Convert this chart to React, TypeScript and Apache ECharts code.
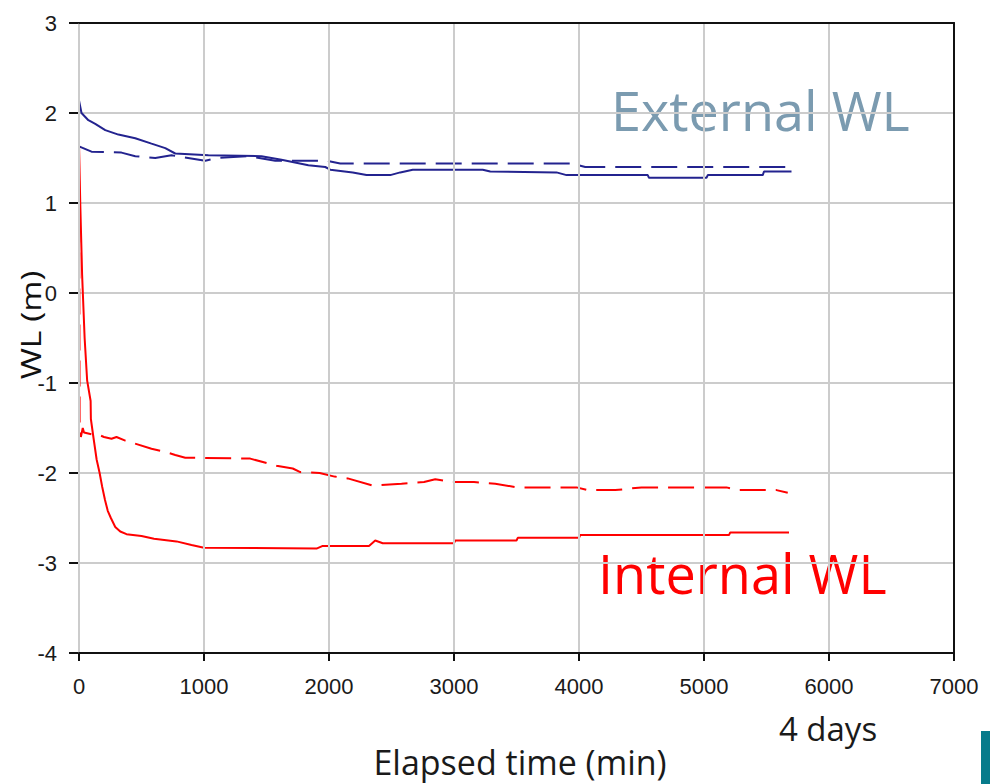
import React, { useEffect, useRef } from "react";
import * as echarts from "echarts";

const xTicks = [0, 1000, 2000, 3000, 4000, 5000, 6000, 7000];
const yTicks = [-4, -3, -2, -1, 0, 1, 2, 3];

const externalSolid: [number, number][] = [
  [0, 2.14], [20, 2.0], [75, 1.92], [130, 1.88], [210, 1.81], [315, 1.76], [450, 1.72],
  [580, 1.66], [690, 1.61], [770, 1.55], [1035, 1.53], [1460, 1.52], [1620, 1.48],
  [1835, 1.42], [1970, 1.4], [2010, 1.37], [2190, 1.34], [2300, 1.31], [2490, 1.31],
  [2570, 1.34], [2670, 1.37], [3230, 1.37], [3290, 1.35], [3820, 1.34], [3900, 1.31],
  [4550, 1.31], [4560, 1.28], [5020, 1.28], [5030, 1.31], [5470, 1.31], [5480, 1.35],
  [5700, 1.35],
];

const externalDashed: [number, number][] = [
  [0, 1.63], [100, 1.57], [340, 1.56], [450, 1.52], [610, 1.5], [740, 1.53], [1010, 1.47],
  [1110, 1.5], [1350, 1.52], [1570, 1.47], [1980, 1.47], [2090, 1.44], [3710, 1.44],
  [3940, 1.44], [4050, 1.4], [5700, 1.4],
];

const internalSolid: [number, number][] = [
  [0, 1.65], [10, 1.0], [25, 0.2], [45, -0.5], [65, -0.97], [93, -1.2], [95, -1.4],
  [115, -1.6], [141, -1.85], [165, -2.0], [185, -2.15], [208, -2.3], [230, -2.42],
  [255, -2.5], [290, -2.6], [330, -2.65], [380, -2.68], [500, -2.7], [600, -2.73],
  [780, -2.76], [900, -2.8], [1000, -2.83], [1900, -2.84], [1950, -2.81], [2320, -2.81],
  [2370, -2.75], [2430, -2.78], [3000, -2.78], [3010, -2.75], [3500, -2.75], [3510, -2.72],
  [4000, -2.72], [4010, -2.69], [5200, -2.69], [5210, -2.66], [5680, -2.66],
];

const internalDashed: [number, number][] = [
  [0, 1.65], [5, -1.45], [15, -1.6], [30, -1.5], [40, -1.55], [100, -1.57], [150, -1.57],
  [200, -1.6], [260, -1.62], [300, -1.6], [370, -1.64], [580, -1.73], [700, -1.77],
  [770, -1.8], [850, -1.83], [1370, -1.84], [1580, -1.92], [1710, -1.95], [1770, -1.99],
  [1925, -2.0], [2045, -2.04], [2150, -2.06], [2350, -2.14], [2580, -2.12], [2760, -2.1],
  [2850, -2.07], [2990, -2.1], [3160, -2.1], [3330, -2.12], [3510, -2.16], [3980, -2.16],
  [4070, -2.19], [4290, -2.19], [4500, -2.16], [5180, -2.16], [5270, -2.19], [5580, -2.19],
  [5670, -2.22],
];

const labels = {
  yName: "WL (m)",
  xName: "Elapsed time (min)",
  days: "4 days",
  external: "External WL",
  internal: "Internal WL",
};

const BLUE = "#23238f";
const RED = "#ff0000";

export default function App() {
  const ref = useRef<HTMLDivElement>(null);
  useEffect(() => {
    if (!ref.current) return;
    const chart = echarts.init(ref.current, null, { renderer: "svg" });
    const tickFont = { fontFamily: "Liberation Sans, Arial, sans-serif", fontSize: 22, color: "#1a1a1a" };
    const frameAxis = {
      type: "value",
      axisLine: { show: true, onZero: false, lineStyle: { color: "#111", width: 2 } },
      axisTick: { show: false },
      axisLabel: { show: false },
      splitLine: { show: false },
    };
    chart.setOption({
      animation: false,
      backgroundColor: "#ffffff",
      grid: { left: 79, right: 36, top: 23, bottom: 131 },
      xAxis: [
        {
          type: "value", min: 0, max: 7000, interval: 1000, position: "bottom",
          axisLine: { show: true, onZero: false, lineStyle: { color: "#111", width: 2 } },
          axisTick: { show: true, length: 8, lineStyle: { color: "#111", width: 2 } },
          splitLine: { show: true, lineStyle: { color: "#cccccc", width: 2 } },
          axisLabel: { ...tickFont, margin: 22, formatter: (v: number) => (xTicks.includes(v) ? String(v) : "") },
          z: 5,
        },
        { ...frameAxis, min: 0, max: 7000, interval: 1000, position: "top", z: 5 },
      ],
      yAxis: [
        {
          type: "value", min: -4, max: 3, interval: 1, position: "left",
          axisLine: { show: true, onZero: false, lineStyle: { color: "#111", width: 2 } },
          axisTick: { show: true, length: 10, lineStyle: { color: "#111", width: 2 } },
          splitLine: { show: true, lineStyle: { color: "#cccccc", width: 2 } },
          axisLabel: { ...tickFont, margin: 22, formatter: (v: number) => (yTicks.includes(v) ? String(v) : "") },
          z: 1,
        },
        { ...frameAxis, min: -4, max: 3, interval: 1, position: "right", z: 5 },
      ],
      series: [
        { type: "line", data: internalDashed, showSymbol: false, lineStyle: { color: RED, width: 2, type: [26, 10] }, z: 3 },
        { type: "line", data: internalSolid, showSymbol: false, lineStyle: { color: RED, width: 2 }, z: 4 },
        { type: "line", data: externalDashed, showSymbol: false, lineStyle: { color: BLUE, width: 2, type: [26, 10] }, z: 3 },
        { type: "line", data: externalSolid, showSymbol: false, lineStyle: { color: BLUE, width: 2 }, z: 4 },
      ],
      graphic: [
        {
          type: "text", x: 30, y: 325, rotation: Math.PI / 2, scaleX: 1.25,
          style: { text: labels.yName, fontFamily: "Open Sans", fontSize: 27, fill: "#111", align: "center", verticalAlign: "middle" },
        },
        {
          type: "text", x: 520, y: 762,
          style: { text: labels.xName, fontFamily: "Open Sans", fontSize: 34, fill: "#1a1a1a", align: "center", verticalAlign: "middle" },
        },
        {
          type: "text", x: 828, y: 728,
          style: { text: labels.days, fontFamily: "Open Sans", fontSize: 33, fill: "#1a1a1a", align: "center", verticalAlign: "middle" },
        },
        {
          type: "text", x: 611, y: 110,
          style: { text: labels.external, fontFamily: "Open Sans", fontSize: 54, fill: "#7b9bb0", align: "left", verticalAlign: "middle" },
        },
        {
          type: "text", x: 598, y: 573,
          style: { text: labels.internal, fontFamily: "Open Sans", fontSize: 54, fill: "#ff0000", align: "left", verticalAlign: "middle" },
        },
        {
          type: "rect", shape: { x: 981, y: 731, width: 9, height: 53 },
          style: { fill: "#077b8b" },
        },
      ],
    });
    return () => chart.dispose();
  }, []);
  return <div ref={ref} style={{ position: "fixed", left: 0, top: 0, width: 990, height: 784 }} />;
}
